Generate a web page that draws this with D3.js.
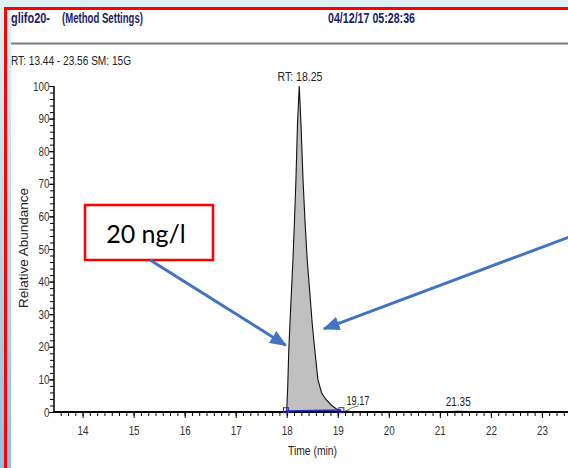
<!DOCTYPE html>
<html>
<head>
<meta charset="utf-8">
<script src="https://cdn.jsdelivr.net/npm/d3@7"></script>
<style>
  html, body { margin: 0; padding: 0; background: #fff; }
  svg { display: block; }
  .narrow { font-family: "Liberation Sans Narrow", "Arial Narrow", "Liberation Sans", Arial, sans-serif; }
</style>
</head>
<body>
<div id="chart"></div>
<script>
// chromatogram trace (time in min, relative abundance %)
const times = [13.44, 14.5, 15.5, 16.5, 17.5, 17.96, 18.00, 18.02, 18.04, 18.08, 18.12, 18.15, 18.18, 18.21, 18.245,
  18.28, 18.32, 18.36, 18.40, 18.45, 18.50, 18.55, 18.61, 18.68, 18.76, 18.88, 18.97, 19.06, 19.12, 19.17, 19.3,
  20.0, 21.0, 21.35, 22.0, 23.0, 23.56];
const abundance = [0, 0, 0, 0, 0, 0, 0.4, 8, 19, 33, 46, 58, 71, 88, 100,
  88, 71, 58, 47, 37, 27, 19, 10, 6, 4, 2, 1, 0.3, 0.1, 0.4, 0,
  0, 0, 0.2, 0, 0, 0];

// integrated peak
const peakStart = 17.985;
const peakEnd = 19.07;

// peak labels
const peakTimes = [18.25, 19.17, 21.35];
const peakTexts = ["RT: 18.25", "19.17", "21.35"];

const xTickLabels = [14, 15, 16, 17, 18, 19, 20, 21, 22, 23];
const yTickLabels = [0, 10, 20, 30, 40, 50, 60, 70, 80, 90, 100];

const width = 568, height = 468;
const svg = d3.select("#chart").append("svg")
  .attr("width", width)
  .attr("height", height);
const defs = svg.append("defs");

// slide background + red frame
const bg = defs.append("linearGradient")
  .attr("id", "slideBg").attr("x1", 0).attr("y1", 0).attr("x2", 0).attr("y2", 1);
bg.append("stop").attr("offset", "0%").attr("stop-color", "#dff1f4");
bg.append("stop").attr("offset", "100%").attr("stop-color", "#8fc0e2");
svg.append("rect").attr("width", width).attr("height", height).attr("fill", "url(#slideBg)");
svg.append("rect").attr("x", 11).attr("y", 10).attr("width", width).attr("height", height).attr("fill", "#fff");
svg.append("line").attr("x1", 5.5).attr("x2", 5.5).attr("y1", 8).attr("y2", height)
  .attr("stroke", "#ff0000").attr("stroke-width", 3);
svg.append("line").attr("x1", 4).attr("x2", width).attr("y1", 8.5).attr("y2", 8.5)
  .attr("stroke", "#ff0000").attr("stroke-width", 3);

// condensed text (no narrow font installed -> squeeze to a fixed width)
function fitText(parent, x, y, txt, w, size) {
  return parent.append("text").attr("class", "narrow")
    .attr("x", x).attr("y", y).attr("font-size", size)
    .attr("textLength", w).attr("lengthAdjust", "spacingAndGlyphs")
    .text(txt);
}

// header
const header = svg.append("g").attr("fill", "#1b1b66").attr("font-weight", "bold");
fitText(header, 11, 23, "glifo20-", 39, 14.5);
fitText(header, 62, 23, "(Method Settings)", 81, 14.5);
fitText(header, 328, 23, "04/12/17 05:28:36", 87, 14.5);
svg.append("line").attr("x1", 11).attr("x2", width).attr("y1", 43.5).attr("y2", 43.5)
  .attr("stroke", "#7a7a7a").attr("stroke-width", 2);
fitText(svg, 11, 65, "RT: 13.44 - 23.56   SM: 15G", 120, 12).attr("fill", "#222");

// scales
const x = d3.scaleLinear().domain([13.44, 23.56]).range([54, 570.5]);
const y = d3.scaleLinear().domain([0, 100]).range([412, 86]);

const plot = svg.append("g");

// filled peak
const peakIdx = times.map((t, i) => i).filter(i => times[i] >= peakStart && times[i] <= peakEnd);
const area = d3.area().x(i => x(times[i])).y0(y(0)).y1(i => y(abundance[i]));
plot.append("path").datum(peakIdx).attr("d", area).attr("fill", "#c0c0c0");

// trace
const line = d3.line().x((d, i) => x(times[i])).y(d => y(d));
plot.append("path").datum(abundance).attr("d", line)
  .attr("fill", "none").attr("stroke", "#111").attr("stroke-width", 1.1);

// axes
const yAxis = d3.axisLeft(y).tickValues(yTickLabels).tickSize(5).tickPadding(1);
const yMinor = d3.axisLeft(y).tickValues(d3.range(0, 101, 2)).tickSize(4).tickFormat("");
const xAxis = d3.axisBottom(x).tickValues(xTickLabels).tickSize(6).tickPadding(8);
const xMinorVals = d3.range(13 * 7 + 1, 23.56 * 7).map(k => k / 7).filter(v => v >= 13.44);
const xMinor = d3.axisBottom(x).tickValues(xMinorVals).tickSize(4).tickFormat("");

function styleAxis(g) {
  g.select(".domain").remove();
  g.selectAll("line").attr("stroke", "#000");
  g.selectAll("text").attr("class", "narrow").attr("font-size", 13).attr("fill", "#333")
    .attr("transform", "scale(0.76,1)");
}
plot.append("g").attr("transform", "translate(54,0)").call(yMinor).call(styleAxis);
plot.append("g").attr("transform", "translate(54,0)").call(yAxis).call(styleAxis);
plot.append("g").attr("transform", "translate(0,412)").call(xMinor).call(styleAxis);
plot.append("g").attr("transform", "translate(0,412)").call(xAxis).call(styleAxis);
plot.append("line").attr("x1", 54).attr("x2", 54).attr("y1", 86).attr("y2", 412.5)
  .attr("stroke", "#000").attr("stroke-width", 1.5);
plot.append("line").attr("x1", 53).attr("x2", width).attr("y1", 412).attr("y2", 412)
  .attr("stroke", "#000").attr("stroke-width", 2);

// integration baseline
plot.append("line").attr("x1", x(peakStart)).attr("x2", x(peakEnd))
  .attr("y1", y(0.3)).attr("y2", y(0.6)).attr("stroke", "#2a2acc").attr("stroke-width", 1.5);
plot.selectAll("rect.mark").data([peakStart, peakEnd]).join("rect").attr("class", "mark")
  .attr("x", d => x(d) - 2.5).attr("y", y(0.4) - 3).attr("width", 5).attr("height", 5)
  .attr("fill", "none").attr("stroke", "#2a2acc").attr("stroke-width", 1);

// peak labels
const lbl = plot.append("g").attr("fill", "#222");
fitText(lbl, x(peakTimes[0]) - 22, 81, peakTexts[0], 45, 13);
plot.append("path")
  .attr("d", `M${x(peakTimes[1])},${y(0) - 1.5} L${x(peakTimes[1]) + 6},${y(0) - 4.5} L${x(peakTimes[1]) + 12},${y(0) - 6}`)
  .attr("fill", "none").attr("stroke", "#5aa05a").attr("stroke-width", 1);
fitText(lbl, x(peakTimes[1]), 405, peakTexts[1], 23, 13);
fitText(lbl, x(peakTimes[2]) - 12, 406, peakTexts[2], 25, 13);

// axis titles
fitText(svg, 288, 455, "Time (min)", 49, 13).attr("fill", "#222");
fitText(svg, 0, 0, "Relative Abundance", 120, 12.5).attr("fill", "#222")
  .attr("transform", "translate(28,308) rotate(-90)");

// annotation
const ann = svg.append("g");
ann.append("rect").attr("x", 85).attr("y", 205).attr("width", 128).attr("height", 55)
  .attr("fill", "#fff").attr("stroke", "#ff0000").attr("stroke-width", 2.5);
ann.append("text").attr("x", 146).attr("y", 243).attr("text-anchor", "middle")
  .attr("font-family", "Lato, 'Open Sans', sans-serif").attr("font-size", 25).attr("fill", "#000")
  .text("20 ng/l");

defs.append("marker").attr("id", "arrow")
  .attr("viewBox", "0 0 12 10").attr("refX", 11).attr("refY", 5)
  .attr("markerWidth", 5.6).attr("markerHeight", 4.67).attr("orient", "auto")
  .attr("markerUnits", "strokeWidth")
  .append("path").attr("d", "M0,0 L12,5 L0,10 Z").attr("fill", "#4472c4");
ann.append("line").attr("x1", 150).attr("y1", 260).attr("x2", x(17.98)).attr("y2", y(20.5))
  .attr("stroke", "#4472c4").attr("stroke-width", 3).attr("marker-end", "url(#arrow)");
ann.append("line").attr("x1", 572).attr("y1", 236).attr("x2", x(18.73)).attr("y2", y(25.5))
  .attr("stroke", "#4472c4").attr("stroke-width", 3).attr("marker-end", "url(#arrow)");
</script>
</body>
</html>
